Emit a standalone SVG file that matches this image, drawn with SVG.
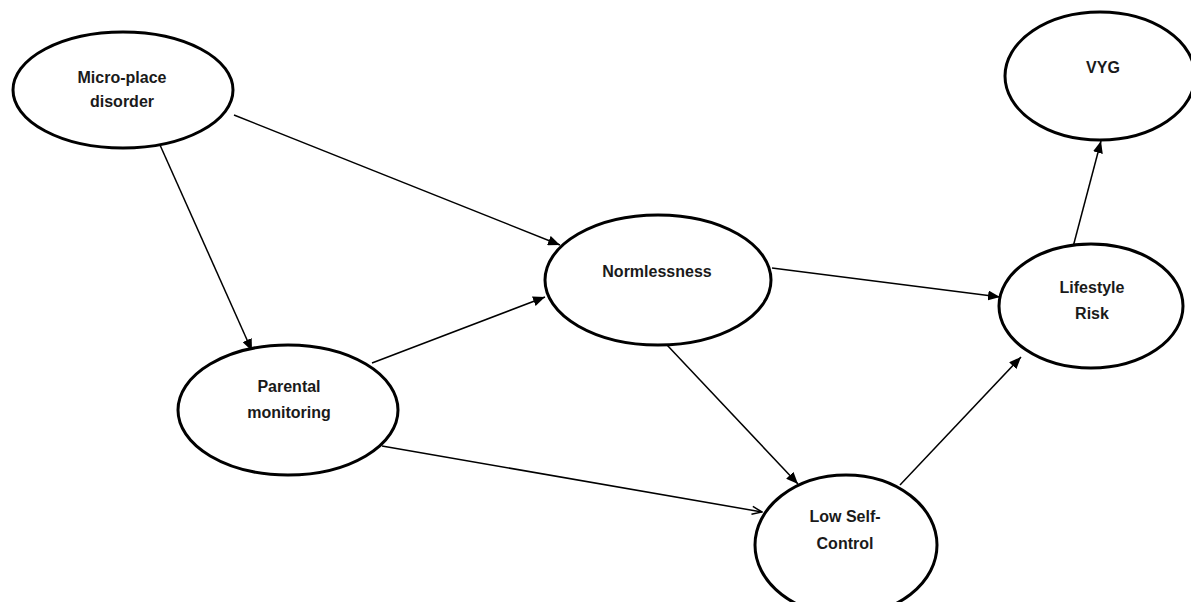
<svg xmlns="http://www.w3.org/2000/svg" width="1191" height="602" viewBox="0 0 1191 602">
<style>
.node ellipse{fill:#fff;stroke:#000;stroke-width:3}
.node text{font-family:"Liberation Sans",Arial,sans-serif;font-weight:bold;font-size:16px;fill:#1a1a1a;text-anchor:middle}
.edges line{stroke:#000;stroke-width:1.5}
</style>
<defs>
<marker id="arrow" viewBox="0 0 12 10" refX="12" refY="5" markerWidth="12" markerHeight="10" markerUnits="userSpaceOnUse" orient="auto">
<path d="M0,0 L12,5 L0,10 Z" fill="#000"/>
</marker>
<marker id="open" viewBox="0 0 12 10" refX="11" refY="5" markerWidth="12" markerHeight="10" markerUnits="userSpaceOnUse" orient="auto">
<path d="M1,1 L11,5 L1,9" fill="none" stroke="#000" stroke-width="1.5"/>
</marker>
</defs>
<rect width="1191" height="602" fill="#fff"/>
<g class="edges">
<line x1="234" y1="115" x2="560" y2="245" marker-end="url(#arrow)"/>
<line x1="160" y1="145" x2="252" y2="351" marker-end="url(#arrow)"/>
<line x1="372" y1="363" x2="545" y2="297" marker-end="url(#arrow)"/>
<line x1="382" y1="446" x2="762" y2="512" marker-end="url(#open)"/>
<line x1="667" y1="345" x2="798" y2="484" marker-end="url(#arrow)"/>
<line x1="772" y1="268" x2="1000" y2="297" marker-end="url(#arrow)"/>
<line x1="900" y1="485" x2="1021" y2="357" marker-end="url(#arrow)"/>
<line x1="1073" y1="247" x2="1101" y2="141" marker-end="url(#arrow)"/>
</g>
<g id="micro" class="node">
<ellipse cx="123" cy="90" rx="110" ry="58"/>
<text x="122" y="83">Micro-place</text>
<text x="122" y="107">disorder</text>
</g>
<g id="vyg" class="node">
<ellipse cx="1100" cy="76" rx="95" ry="64"/>
<text x="1103" y="73">VYG</text>
</g>
<g id="normlessness" class="node">
<ellipse cx="658" cy="280" rx="113" ry="65"/>
<text x="657" y="277">Normlessness</text>
</g>
<g id="lifestyle" class="node">
<ellipse cx="1091" cy="306" rx="92" ry="62"/>
<text x="1092" y="293">Lifestyle</text>
<text x="1092" y="319">Risk</text>
</g>
<g id="parental" class="node">
<ellipse cx="288" cy="410" rx="110" ry="65"/>
<text x="289" y="392">Parental</text>
<text x="289" y="418">monitoring</text>
</g>
<g id="lowself" class="node">
<ellipse cx="846" cy="545" rx="91" ry="70"/>
<text x="845" y="522">Low Self-</text>
<text x="845" y="549">Control</text>
</g>
</svg>
